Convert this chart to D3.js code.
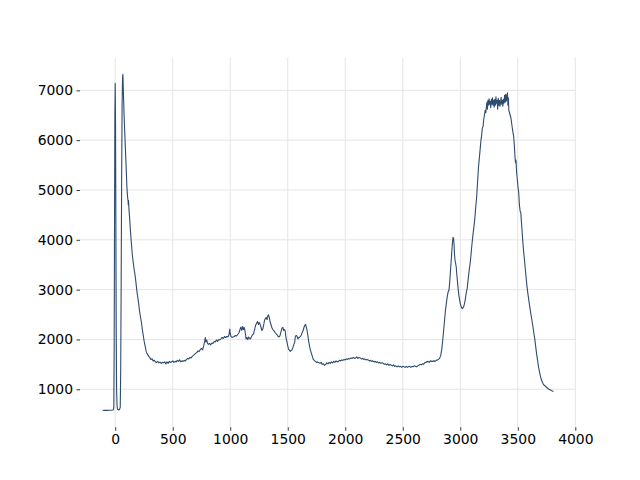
<!DOCTYPE html>
<html>
<head>
<meta charset="utf-8">
<script src="https://cdn.jsdelivr.net/npm/d3@7"></script>
<style>
  html, body { margin: 0; padding: 0; background: #fff; }
  svg { display: block; }
  text { font-family: "DejaVu Sans", sans-serif; }
</style>
</head>
<body>
<svg id="chart" width="640" height="480"></svg>
<script>
// Wavenumber / shift positions
const xValues = [
  -110,-90,-70,-50,-30,-22,-16,-12,-9,-6,-3,0,3,6,9,12,16,20,30,38,44,48,52,56,60,64,67,
  72,78,84,90,96,102,108,112,114,116,120,126,132,140,148,156,164,172,180,188,196,204,212,220,228,236,244,252,260,268,276,284,292,300,
  310,320,330,340,350,360,370,380,390,400,410,420,430,440,450,460,470,480,490,500,510,520,530,540,550,560,570,580,590,600,
  610,620,630,640,650,660,670,680,690,700,710,720,730,740,750,760,770,778,783,788,795,803,810,820,830,840,850,860,870,880,890,900,
  910,920,930,940,950,960,970,980,990,996,1000,1006,1015,1025,1035,1045,1055,1065,1075,1085,1093,1100,1108,1115,1122,1130,1138,1145,1152,1160,1168,1175,
  1185,1195,1203,1212,1220,1228,1237,1245,1252,1261,1268,1275,1282,1290,1298,1305,1312,1320,1326,1333,1340,1347,1354,1362,1370,1377,1385,1393,1400,
  1408,1416,1424,1432,1440,1450,1458,1465,1472,1478,1485,1493,1500,1508,1515,1522,1530,1537,1545,1552,1560,1566,1572,1580,1588,1595,1602,1610,1618,1626,1634,1642,1650,1656,1662,1668,1675,1682,1690,1698,1706,1714,1722,1730,1740,
  1750,1760,1770,1780,1790,1800,1810,1820,1830,1840,1850,1860,1870,1880,1890,1900,1910,1920,1930,1940,1950,1960,1970,1980,1990,2000,
  2010,2020,2030,2040,2050,2060,2070,2080,2090,2100,2110,2120,2130,2140,2150,2160,2170,2180,2190,2200,2210,2220,2230,2240,2250,2260,2270,2280,2290,2300,
  2310,2320,2330,2340,2350,2360,2370,2380,2390,2400,2410,2420,2430,2440,2450,2460,2470,2480,2490,2500,2510,2520,2530,2540,2550,2560,2570,2580,2590,2600,
  2610,2620,2630,2640,2650,2660,2670,2680,2690,2700,2710,2720,2730,2740,2750,2760,2770,2780,2790,2800,2810,2820,2830,2840,2848,2856,2864,2872,2880,2888,2895,2902,
  2908,2914,2920,2926,2932,2937,2942,2946,2950,2955,2960,2965,2970,2976,2982,2988,2994,3000,3006,3012,3018,3024,3030,3036,3042,3048,3054,3060,3066,3072,3078,3084,3090,3096,3102,
  3110,3118,3126,3134,3142,3150,3158,3166,3172,3180,3186,3192,3198,3204,3210,3216,3222,3228,3232,3236,3240,3246,3250,3255,3260,3265,3270,3275,3280,3285,3290,3295,3300,
  3305,3310,3315,3320,3325,3330,3335,3340,3345,3350,3355,3360,3365,3370,3375,3380,3385,3390,3395,3400,3405,3410,3414,3418,3422,3428,3434,3440,3446,3452,3458,3464,3470,3476,3480,3484,
  3490,3496,3502,3508,3514,3520,3526,3532,3538,3544,3550,3556,3562,3568,3574,3580,3586,3592,3600,3608,3616,3624,3632,3640,3648,3656,3664,3672,3680,3688,3696,3704,3712,3720,
  3730,3740,3750,3760,3770,3780,3790,3800,3810
];
// Intensity values
const yValues = [
  578,576,577,578,580,583,590,640,1800,4200,6400,7140,6300,4200,2200,1000,680,600,585,595,640,1400,3200,5200,6700,7250,7320,
  6900,6450,6100,5750,5400,5050,4850,4780,4700,4790,4600,4420,4200,3950,3720,3560,3420,3300,3150,2980,2850,2720,2560,2450,2340,2200,2080,1960,1870,1770,1720,1690,1660,1640,
  1600,1610,1570,1580,1550,1540,1560,1530,1545,1520,1540,1530,1550,1510,1550,1520,1560,1540,1550,1570,1540,1560,1550,1580,1560,1590,1550,1570,1560,1580,
  1570,1600,1620,1610,1640,1630,1660,1680,1700,1720,1740,1770,1760,1800,1820,1790,1880,1960,2040,1950,1990,1920,1900,1920,1890,1930,1920,1960,1950,1990,1960,2000,
  1990,2010,2040,2020,2060,2040,2060,2050,2100,2210,2120,2060,2040,2050,2060,2080,2070,2100,2130,2200,2250,2180,2260,2200,2240,2150,2010,2040,2000,2050,2020,2010,
  2060,2100,2110,2200,2280,2320,2360,2300,2340,2300,2240,2180,2200,2280,2380,2420,2440,2400,2470,2495,2440,2350,2300,2240,2200,2180,2160,2130,2110,
  2090,2060,2050,2070,2140,2230,2240,2180,2200,2170,2030,1950,1870,1800,1785,1760,1780,1790,1840,1890,1940,2060,2080,2070,2010,2040,2040,2060,2090,2140,2180,2250,2290,2300,2240,2180,2080,1960,1860,1780,1720,1660,1600,1580,1560,
  1540,1550,1530,1520,1540,1500,1510,1480,1500,1530,1510,1540,1520,1550,1530,1560,1540,1570,1550,1560,1580,1570,1590,1580,1600,1590,
  1610,1600,1620,1610,1630,1620,1640,1620,1630,1650,1620,1640,1630,1610,1620,1600,1610,1590,1600,1590,1570,1580,1560,1570,1550,1560,1540,1550,1530,1540,
  1520,1530,1520,1500,1510,1490,1510,1480,1500,1480,1470,1490,1460,1470,1450,1470,1450,1460,1440,1460,1450,1440,1460,1440,1450,1460,1440,1460,1450,1470,
  1460,1450,1470,1480,1500,1490,1510,1500,1530,1540,1550,1560,1540,1570,1560,1560,1570,1560,1580,1590,1600,1620,1680,1820,2000,2200,2400,2600,2750,2880,2960,2990,
  3150,3350,3550,3750,3950,4050,4020,3900,3700,3580,3520,3450,3300,3150,3000,2880,2800,2720,2670,2640,2620,2640,2660,2720,2780,2880,2960,3020,3150,3280,3400,3500,3620,3780,3920,
  4100,4250,4420,4650,4850,5150,5450,5650,5800,6000,6100,6250,6270,6420,6500,6600,6550,6700,6760,6620,6800,6700,6830,6720,6780,6650,6820,6720,6850,6700,6800,6660,6820,
  6700,6870,6740,6800,6620,6840,6700,6800,6680,6760,6860,6720,6800,6680,6820,6740,6900,6760,6920,6780,6880,6950,6700,6850,6600,6550,6500,6450,6350,6250,6150,6080,5900,5650,5550,5600,
  5350,5200,5050,4950,4700,4580,4550,4350,4150,3950,3780,3650,3500,3350,3200,3060,2950,2850,2720,2600,2480,2370,2250,2120,2000,1850,1700,1580,1450,1360,1270,1200,1150,1110,
  1080,1060,1040,1020,1000,990,975,965,955
];
const xTickValues = [0, 500, 1000, 1500, 2000, 2500, 3000, 3500, 4000];
const yTickValues = [1000, 2000, 3000, 4000, 5000, 6000, 7000];

const data = xValues.map((x, i) => ({ x, y: yValues[i] }));

const W = 640, H = 480;
const m = { left: 80, right: 64, top: 57.6, bottom: 52.8 };
const svg = d3.select("#chart");

const xExt = d3.extent(xValues), yExt = d3.extent(yValues);
const xPad = (xExt[1] - xExt[0]) * 0.05, yPad = (yExt[1] - yExt[0]) * 0.05;
const x = d3.scaleLinear().domain([xExt[0] - xPad, xExt[1] + xPad]).range([m.left, W - m.right]);
const y = d3.scaleLinear().domain([yExt[0] - yPad, yExt[1] + yPad]).range([H - m.bottom, m.top]);

// grid
const grid = svg.append("g");
grid.selectAll("line.gx").data(xTickValues).join("line")
  .attr("x1", d => x(d)).attr("x2", d => x(d))
  .attr("y1", m.top).attr("y2", H - m.bottom)
  .attr("stroke", "#e5e5e5").attr("stroke-width", 1);
grid.selectAll("line.gy").data(yTickValues).join("line")
  .attr("y1", d => y(d)).attr("y2", d => y(d))
  .attr("x1", m.left).attr("x2", W - m.right)
  .attr("stroke", "#e5e5e5").attr("stroke-width", 1);

// axes
const xAxis = svg.append("g").attr("transform", `translate(0,${H - m.bottom})`)
  .call(d3.axisBottom(x).tickValues(xTickValues).tickFormat(d3.format("d")).tickSize(3.5).tickPadding(3.5));
const yAxis = svg.append("g").attr("transform", `translate(${m.left},0)`)
  .call(d3.axisLeft(y).tickValues(yTickValues).tickFormat(d3.format("d")).tickSize(3.5).tickPadding(3.5));
[xAxis, yAxis].forEach(a => {
  a.select(".domain").remove();
  a.selectAll(".tick line").attr("stroke", "#000").attr("stroke-width", 0.8);
  a.selectAll(".tick text").attr("font-family", "DejaVu Sans, sans-serif").attr("font-size", "13.9px").attr("fill", "#000");
});

// line
svg.append("path").datum(data)
  .attr("fill", "none")
  .attr("stroke", "#2f4b6e")
  .attr("stroke-width", 1.1)
  .attr("stroke-linejoin", "round")
  .attr("d", d3.line().x(d => x(d.x)).y(d => y(d.y)));
</script>
</body>
</html>
